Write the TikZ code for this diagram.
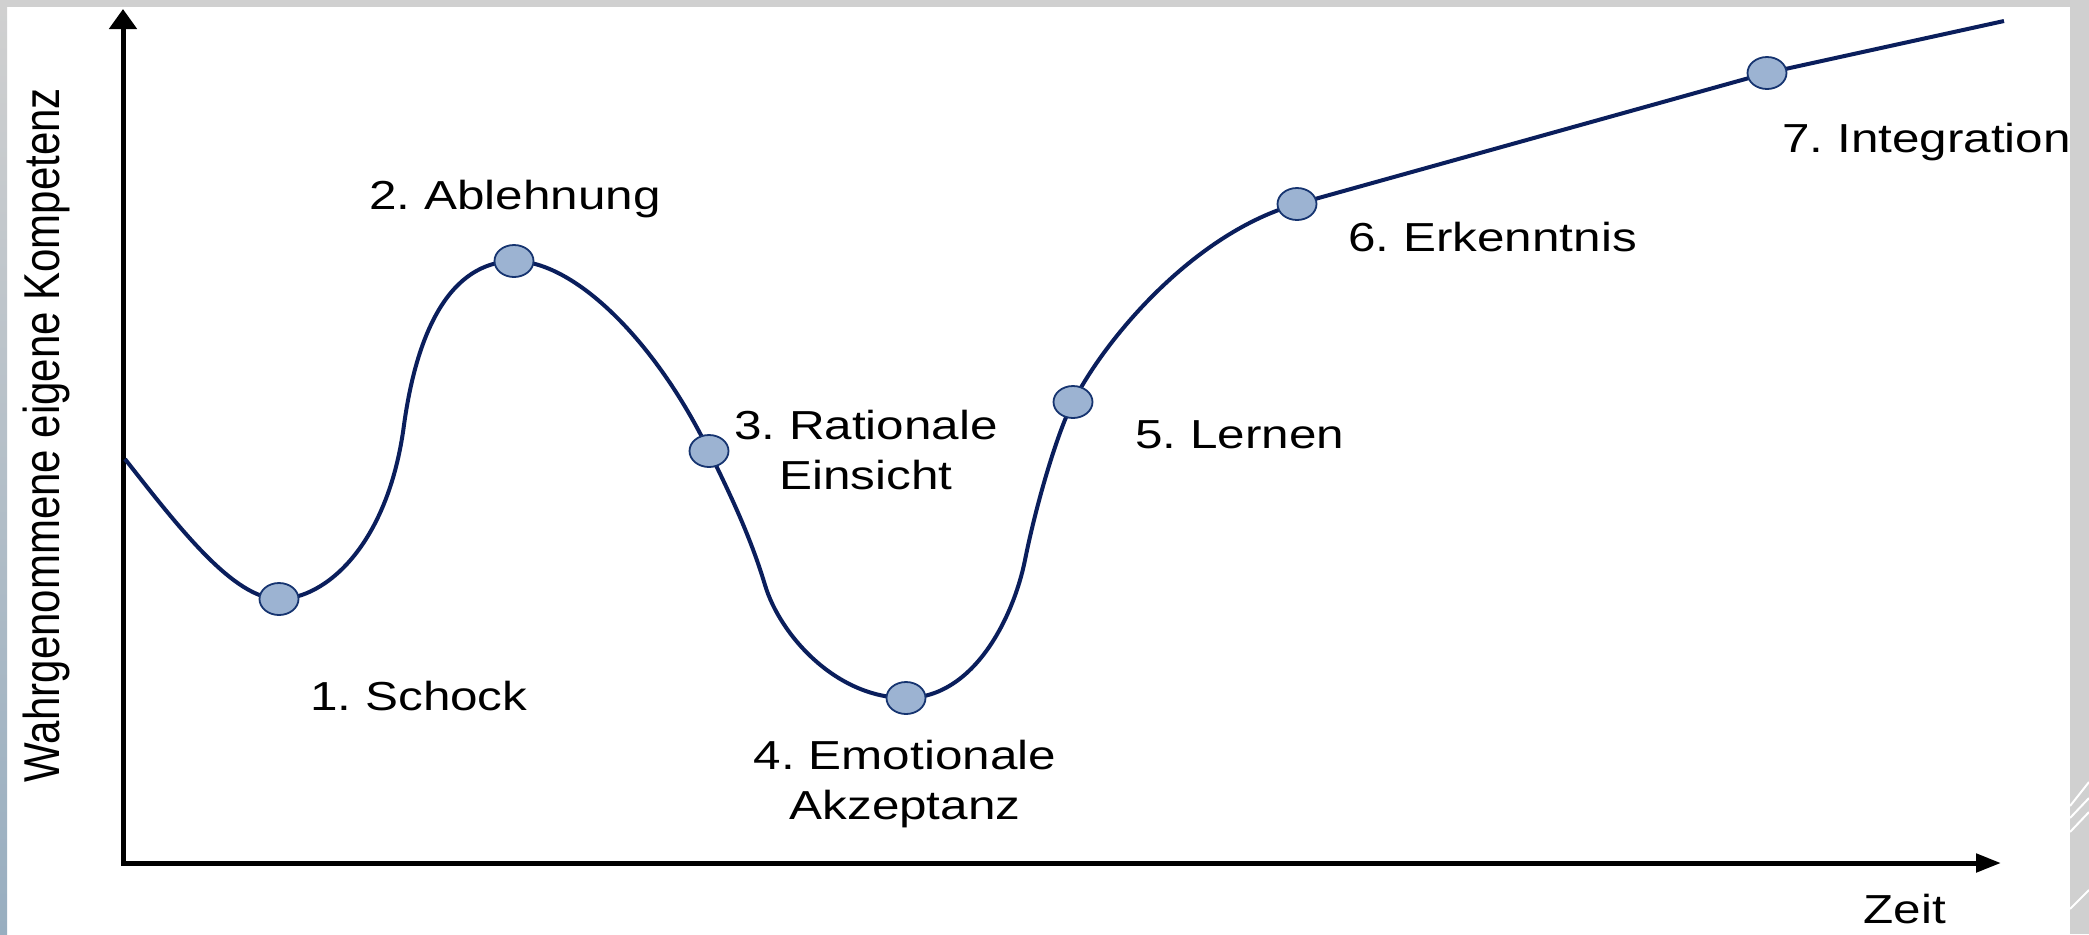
\documentclass[tikz,border=0pt]{standalone}
\usepackage{fontspec}
\setmainfont{Liberation Sans}
\usetikzlibrary{arrows.meta,shapes.geometric}
\frenchspacing

\definecolor{curveblue}{RGB}{10,30,92}
\definecolor{dotfill}{RGB}{156,179,210}
\definecolor{dotline}{RGB}{22,52,112}
\definecolor{framegray}{RGB}{208,208,208}
\definecolor{framesteel}{RGB}{152,174,192}

\begin{document}
\begin{tikzpicture}[
    x=0.5pt, y=-0.5pt,
    axis/.style={line width=2.5pt,draw=black},
    curve/.style={draw=curveblue,line width=2pt},
    dot/.style={ellipse,draw=dotline,fill=dotfill,line width=0.9pt,
      minimum width=19.5pt,minimum height=16pt,inner sep=0pt},
    stage/.style={font=\fontsize{20.25}{25}\selectfont,xscale=1.22,
      transform shape,inner sep=0pt,align=center},
    ylabel/.style={font=\fontsize{21}{25}\selectfont,rotate=90,inner sep=0pt}
  ]
  % frame
  \useasboundingbox (0,0) rectangle (2089,934);
  \fill[white] (0,0) rectangle (2089,934);
  \fill[framegray] (0,0) rectangle (2089,7);
  \shade[top color=framegray,bottom color=framesteel] (0,7) rectangle (7,934);
  \fill[framegray] (2070,7) rectangle (2089,934);
  \draw[white,line width=1pt] (2070,806) -- (2089,782) (2070,818) -- (2089,798)
    (2070,832) -- (2089,812) (2070,909) -- (2089,890);

  % axes
  \coordinate (origin) at (123,863);
  \coordinate (ytip) at (123,9);
  \coordinate (xtip) at (2001,863);
  \draw[axis,{Triangle[length=10pt,width=13.5pt]}-{Triangle[length=12.5pt,width=9pt]}]
    (ytip) -- (origin) -- (xtip);

  % stages on the curve
  \coordinate (start) at (125,459);
  \coordinate (s1) at (279,599);
  \coordinate (s2) at (514,261);
  \coordinate (s3) at (709,451);
  \coordinate (s4) at (906,698);
  \coordinate (s5) at (1073,402);
  \coordinate (s6) at (1297,204);
  \coordinate (s7) at (1767,73);
  \coordinate (finish) at (2004,21);

  \draw[curve] (start) .. controls (180,529) and (234,599) .. (s1)
    .. controls (325,599) and (388,546) .. (404,425)
    .. controls (417,331) and (450,262) .. (s2)
    .. controls (574,261) and (655,340) .. (s3)
    .. controls (729,492) and (750,535) .. (765,585)
    .. controls (780,635) and (836,698) .. (s4)
    .. controls (975,698) and (1014,615) .. (1025,560)
    .. controls (1036,505) and (1057,433) .. (s5)
    .. controls (1108,334) and (1197,232) .. (s6)
    -- (s7) -- (finish);

  \foreach \s in {1,...,7}
    \node[dot] (d\s) at (s\s) {};

  % labels
  \node[stage,anchor=base west] (l1) at (310,710) {1. Schock};
  \node[stage,anchor=base west] (l2) at (369,209) {2. Ablehnung};
  \node[stage,anchor=north] (l3) at (866,410) {3. Rationale\\Einsicht};
  \node[stage,anchor=north] (l4) at (905,740) {4. Emotionale\\Akzeptanz};
  \node[stage,anchor=base west] (l5) at (1135,448) {5. Lernen};
  \node[stage,anchor=base west] (l6) at (1348,251) {6. Erkenntnis};
  \node[stage,anchor=base west] (l7) at (1782,152) {7. Integration};
  \node[stage,anchor=base west] (xlabel) at (1863,923) {Zeit};
  \node[ylabel,anchor=base] (ylab) at (59,435)
    {\scalebox{1}[1.2]{Wahrgenommene eigene Kompetenz}};
\end{tikzpicture}
\end{document}
